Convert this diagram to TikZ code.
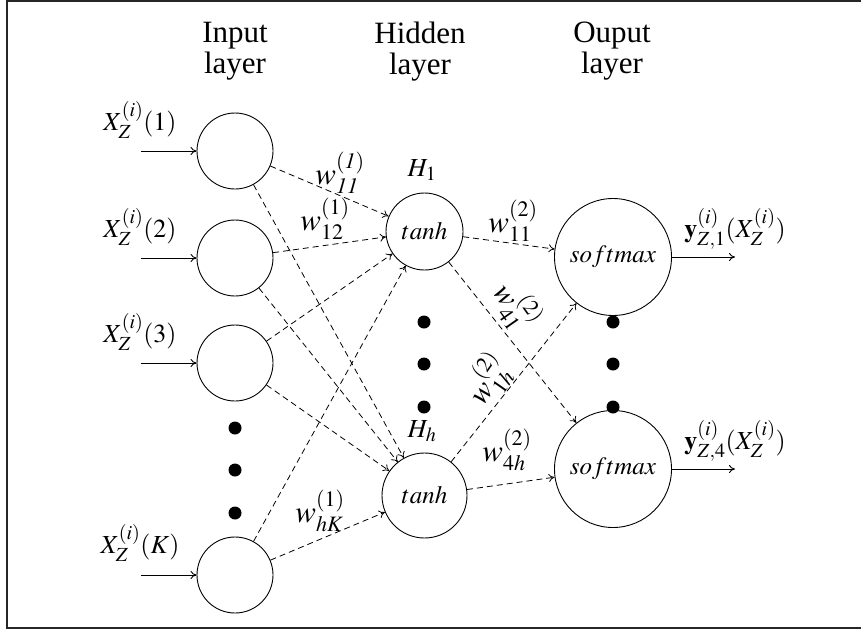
\documentclass[tikz,border=0pt]{standalone}
\usepackage{mathptmx}
\usepackage{fontspec}
\setmainfont{Liberation Serif}
\usetikzlibrary{arrows.meta}
\DeclareMathSizes{26}{26}{20}{15}
\DeclareMathSizes{31}{31}{22}{16}
\begin{document}
\begin{tikzpicture}[x=1pt,y=-1pt,
  neuron/.style={draw, circle, line width=0.9pt, inner sep=0pt},
  inp/.style={neuron, minimum size=76pt},
  hid/.style={neuron, minimum size=77pt, font=\fontsize{25}{30}\selectfont},
  outn/.style={neuron, minimum size=117pt, font=\fontsize{25}{30}\selectfont},
  conn/.style={line width=0.8pt, dash pattern=on 6pt off 4pt, -{To[length=6pt,width=8pt]}},
  feed/.style={line width=0.9pt, -{To[length=6pt,width=8pt]}},
  lbl/.style={font=\fontsize{26}{30}\selectfont, inner sep=0pt},
  wlbl/.style={font=\fontsize{31}{34}\selectfont, inner sep=0pt},
  head/.style={font=\fontsize{31}{31}\selectfont, align=center, inner sep=0pt, anchor=north},
  bigdot/.style={circle, fill, inner sep=0pt, minimum size=13pt}
]
\useasboundingbox (0,0) rectangle (861,629);
\draw[line width=1.3pt, black!85] (861,1) -- (7,1) -- (7,628) -- (861,628);

% headers
\node[head] (hin) at (235,22) {Input\\layer};
\node[head] (hhid) at (420,22) {Hidden\\layer};
\node[head] (hout) at (612,22) {Ouput\\layer};

% input layer
\node[inp] (i1) at (235,151) {};
\node[inp] (i2) at (235,258) {};
\node[inp] (i3) at (235,363) {};
\node[inp] (iK) at (235,575) {};
\node[bigdot] (di1) at (235,428) {};
\node[bigdot] (di2) at (235,470) {};
\node[bigdot] (di3) at (235,513) {};

% hidden layer
\node[hid] (h1) at (424.5,231.5) {$tanh$};
\node[hid, minimum size=85pt] (hh) at (424.5,495.5) {$tanh$};
\node[bigdot] (dh1) at (424,322) {};
\node[bigdot] (dh2) at (424,364) {};
\node[bigdot] (dh3) at (424,407) {};
\node[lbl, anchor=base] (lh1) at (422,176) {$H_1$};
\node[lbl, anchor=base] (lhh) at (422,437) {$H_h$};

% output layer
\node[outn] (o1) at (613,257) {$softmax$};
\node[outn] (o2) at (613,469) {$softmax$};
\node[bigdot] (do1) at (613,322) {};
\node[bigdot] (do2) at (613,364) {};
\node[bigdot] (do3) at (613,407) {};

% input arrows
\coordinate (a1) at (141,151);
\coordinate (a2) at (141,258);
\coordinate (a3) at (141,363);
\coordinate (aK) at (141,575);
\draw[feed] (a1) -- (i1);
\draw[feed] (a2) -- (i2);
\draw[feed] (a3) -- (i3);
\draw[feed] (aK) -- (iK);
\node[lbl, anchor=base] (x1) at (140,130) {$X_Z^{(i)}(1)$};
\node[lbl, anchor=base] (x2) at (140,237) {$X_Z^{(i)}(2)$};
\node[lbl, anchor=base] (x3) at (140,342) {$X_Z^{(i)}(3)$};
\node[lbl, anchor=base] (xK) at (140,553) {$X_Z^{(i)}(K)$};

% output arrows
\coordinate (b1) at (735,257);
\coordinate (b2) at (735,469);
\draw[feed] (o1) -- (b1);
\draw[feed] (o2) -- (b2);
\node[lbl, anchor=base] (y1) at (735,237) {$\mathbf{y}_{Z,1}^{(i)}(X_Z^{(i)})$};
\node[lbl, anchor=base] (y2) at (735,449) {$\mathbf{y}_{Z,4}^{(i)}(X_Z^{(i)})$};

% connections input -> hidden
\foreach \s in {i1,i2,i3,iK}{
  \draw[conn] (\s) -- (h1);
  \draw[conn] (\s) -- (hh);
}
% hidden -> output
\foreach \s in {h1,hh}{
  \draw[conn] (\s) -- (o1);
  \draw[conn] (\s) -- (o2);
}

% weight labels
\node[wlbl] (w111) at (340,173) {$w_{\mathit{11}}^{\mathit{(1)}}$};
\node[wlbl] (w112) at (325,219) {$w_{12}^{(1)}$};
\node[wlbl] (w1hK) at (320,511) {$w_{hK}^{(1)}$};
\node[wlbl] (w211) at (513,221) {$w_{11}^{(2)}$};
\node[wlbl, rotate=-55] (w241) at (516,306) {$w_{41}^{(2)}$};
\node[wlbl, rotate=55] (w21h) at (488,380) {$w_{1h}^{(2)}$};
\node[wlbl] (w24h) at (507,450) {$w_{4h}^{(2)}$};
\end{tikzpicture}
\end{document}
